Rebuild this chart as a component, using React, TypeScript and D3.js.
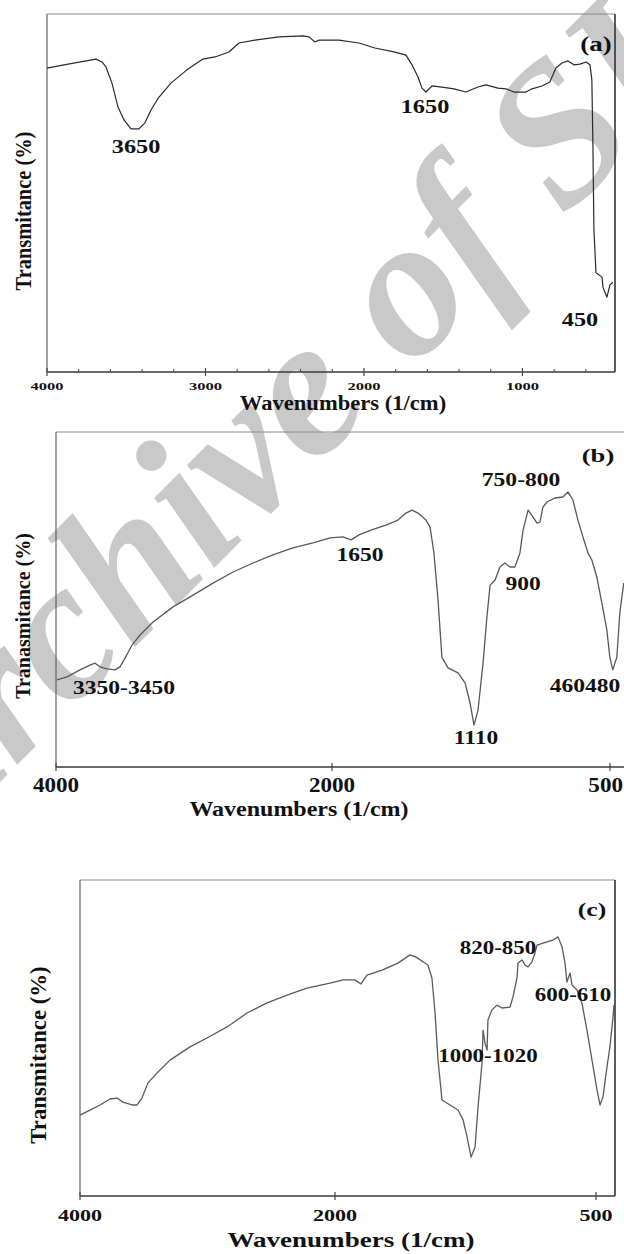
import React from 'react';
import * as d3 from 'd3';

type Pt = [number, number];

// FTIR spectra: [wavenumber (1/cm), transmittance (%)]
const spectrumA: Pt[] = [
  [4000, 84.9], [3893, 85.8], [3754, 86.9], [3691, 87.4], [3653, 86.6], [3628, 85.2],
  [3590, 80.7], [3552, 74.0], [3514, 70.4], [3470, 67.9], [3420, 67.9], [3382, 69.6],
  [3344, 73.2], [3293, 76.8], [3218, 80.7], [3117, 84.4], [3016, 87.4], [2940, 88.0],
  [2852, 89.4], [2789, 91.9], [2688, 92.7], [2536, 93.6], [2385, 93.9], [2347, 93.6],
  [2309, 92.2], [2284, 92.7], [2158, 92.7], [2032, 91.9], [1931, 90.5], [1811, 89.4],
  [1735, 88.5], [1697, 85.8], [1659, 82.4], [1634, 79.3], [1609, 78.2], [1571, 79.9],
  [1508, 79.6], [1432, 79.1], [1357, 78.2], [1281, 79.6], [1230, 80.2], [1155, 79.3],
  [1104, 79.1], [1054, 78.2], [978, 78.2], [940, 79.1], [877, 79.9], [827, 81.0],
  [789, 84.9], [751, 86.3], [713, 86.9], [675, 85.8], [637, 86.0], [599, 86.6],
  [574, 85.8], [562, 81.6], [555, 62.0], [549, 39.7], [536, 27.7], [498, 26.5],
  [492, 23.7], [467, 20.9], [448, 24.3], [429, 25.1],
];

const spectrumB: Pt[] = [
  [3993, 26.0], [3920, 26.9], [3826, 29.0], [3754, 30.4], [3717, 31.0], [3681, 29.9],
  [3630, 29.3], [3572, 29.0], [3536, 29.9], [3500, 32.5], [3449, 36.4], [3391, 39.4],
  [3297, 43.3], [3152, 47.8], [3007, 51.3], [2862, 54.9], [2717, 58.2], [2572, 60.9],
  [2428, 63.3], [2283, 65.4], [2138, 66.9], [2014, 68.4], [1941, 68.7], [1897, 67.8],
  [1854, 69.3], [1790, 70.7], [1709, 72.2], [1644, 73.7], [1601, 75.8], [1568, 76.7],
  [1536, 75.8], [1493, 73.7], [1471, 71.6], [1450, 63.9], [1428, 49.9], [1407, 32.8],
  [1374, 29.6], [1320, 28.1], [1282, 25.1], [1255, 19.1], [1234, 12.5], [1212, 17.0],
  [1185, 31.0], [1164, 44.8], [1147, 54.3], [1120, 55.8], [1094, 59.7], [1067, 60.9],
  [1040, 59.7], [1013, 59.7], [986, 63.9], [969, 70.7], [942, 76.7], [915, 74.6],
  [894, 72.8], [878, 73.1], [862, 77.6], [840, 79.1], [797, 80.3], [754, 80.6],
  [727, 82.1], [700, 79.7], [673, 73.7], [646, 68.7], [619, 63.9], [598, 61.8],
  [571, 56.7], [544, 49.0], [517, 40.9], [501, 32.8], [485, 29.0], [463, 32.8],
  [447, 46.0], [426, 54.9],
];

const spectrumC: Pt[] = [
  [4000, 25.6], [3922, 27.2], [3843, 28.8], [3765, 30.7], [3710, 31.0], [3663, 29.7],
  [3592, 28.8], [3553, 28.8], [3514, 31.0], [3467, 35.8], [3396, 38.9], [3294, 43.0],
  [3137, 47.2], [3004, 50.0], [2847, 53.5], [2690, 57.9], [2533, 61.1], [2376, 63.6],
  [2220, 65.8], [2039, 67.4], [1954, 68.4], [1885, 68.4], [1851, 67.1], [1816, 69.9],
  [1730, 71.5], [1638, 73.7], [1569, 76.3], [1534, 75.6], [1466, 73.1], [1443, 69.0],
  [1425, 57.9], [1408, 43.0], [1385, 30.4], [1339, 28.8], [1293, 27.2], [1264, 24.1],
  [1241, 18.7], [1218, 12.3], [1195, 15.5], [1178, 28.2], [1155, 42.1], [1149, 52.5],
  [1138, 48.4], [1126, 46.2], [1121, 55.7], [1098, 58.9], [1069, 60.4], [1040, 59.5],
  [994, 59.8], [977, 63.0], [954, 69.0], [948, 73.7], [925, 74.7], [908, 73.1],
  [891, 72.5], [868, 74.1], [851, 76.9], [839, 79.4], [782, 80.4], [747, 81.0],
  [718, 82.0], [695, 78.8], [678, 73.7], [667, 67.7], [649, 70.6], [638, 66.8],
  [609, 65.2], [581, 61.1], [552, 52.5], [523, 43.0], [494, 33.5], [477, 28.8],
  [460, 31.3], [437, 40.8], [420, 47.2], [402, 56.6], [397, 60.4],
];

// Axis tick labels
const ticksA = [4000, 3000, 2000, 1000];
const ticksB = [4000, 2000, 500];
const ticksC = [4000, 2000, 500];

// Band annotations: text placed at [wavenumber, transmittance]
type Peak = { label: string; wn: number; t: number };
const peaksA: Peak[] = [
  { label: '3650', wn: 3438, t: 61.2 },
  { label: '1650', wn: 1615, t: 72.3 },
  { label: '450', wn: 637, t: 12.8 },
];
const peaksB: Peak[] = [
  { label: '750-800', wn: 980, t: 83.9 },
  { label: '1650', wn: 1849, t: 61.5 },
  { label: '900', wn: 969, t: 52.8 },
  { label: '3350-3450', wn: 3507, t: 21.8 },
  { label: '1110', wn: 1223, t: 6.9 },
  { label: '460480', wn: 635, t: 22.4 },
];
const peaksC: Peak[] = [
  { label: '820-850', wn: 1063, t: 76.6 },
  { label: '600-610', wn: 632, t: 61.7 },
  { label: '1000-1020', wn: 1121, t: 42.4 },
];

const xTitle = 'Wavenumbers (1/cm)';
const yTitles = ['Transmitance (%)', 'Tranasmitance (%)', 'Transmitance (%)'];
const panelTags = ['(a)', '(b)', '(c)'];
const watermark = 'Archive of SID';

const SERIF = "'Liberation Serif','Times New Roman',serif";
const PAGE_W = 624;

type TextProps = {
  x: number; y: number; size: number; sx?: number; anchor?: string;
  rotate?: number; fill?: string; italic?: boolean; children: React.ReactNode;
};

function SText({ x, y, size, sx = 1, anchor = 'middle', rotate = 0, fill = '#111', italic = false, children }: TextProps) {
  return (
    <text
      transform={`translate(${x},${y}) rotate(${rotate}) scale(${sx},1)`}
      textAnchor={anchor as any}
      fontSize={size}
      fontWeight="bold"
      fontStyle={italic ? 'italic' : 'normal'}
      fontFamily={SERIF}
      fill={fill}
    >
      {children}
    </text>
  );
}

type Layout = {
  left: number; right: number; top: number; bottom: number;
  xDomain: number[]; xRange: number[];
  curveColor: string; curveWidth: number;
  tickSize: number; tickSx: number; tickY: number;
  peakSize: number; peakSx: number;
  tagX: number; tagY: number; tagSize: number; tagSx: number;
  xTitleX: number; xTitleY: number; xTitleSize: number; xTitleSx: number;
  yTitleX: number; yTitleY: number; yTitleSize: number; yTitleSx: number;
  frameRight: boolean; minorStep?: number;
};

const layoutA: Layout = {
  left: 47, right: 615, top: 14, bottom: 372,
  xDomain: [4000, 416], xRange: [47, 615],
  curveColor: '#2a2a2a', curveWidth: 1.2,
  tickSize: 11, tickSx: 1.5, tickY: 390,
  peakSize: 19, peakSx: 1.28,
  tagX: 596, tagY: 51, tagSize: 20, tagSx: 1.35,
  xTitleX: 343, xTitleY: 410, xTitleSize: 20, xTitleSx: 1.13,
  yTitleX: 31, yTitleY: 211, yTitleSize: 24, yTitleSx: 0.85,
  frameRight: true, minorStep: 200,
};

const layoutB: Layout = {
  left: 56, right: 624, top: 432, bottom: 767,
  xDomain: [4000, 2000, 500], xRange: [56, 332, 610],
  curveColor: '#585858', curveWidth: 1.3,
  tickSize: 21, tickSx: 1.1, tickY: 792,
  peakSize: 19, peakSx: 1.24,
  tagX: 598, tagY: 462, tagSize: 19, tagSx: 1.4,
  xTitleX: 299, xTitleY: 816, xTitleSize: 20, xTitleSx: 1.2,
  yTitleX: 30, yTitleY: 616, yTitleSize: 22, yTitleSx: 0.91,
  frameRight: false,
};

const layoutC: Layout = {
  left: 80, right: 615, top: 880, bottom: 1196,
  xDomain: [4000, 2000, 500], xRange: [80, 335, 596],
  curveColor: '#5a5a5a', curveWidth: 1.3,
  tickSize: 17, tickSx: 1.3, tickY: 1221,
  peakSize: 19, peakSx: 1.21,
  tagX: 592, tagY: 916, tagSize: 19, tagSx: 1.35,
  xTitleX: 351, xTitleY: 1247, xTitleSize: 22, xTitleSx: 1.23,
  yTitleX: 46, yTitleY: 1055, yTitleSize: 24, yTitleSx: 0.95,
  frameRight: true,
};

type PanelProps = {
  layout: Layout; data: Pt[]; ticks: number[]; peaks: Peak[]; tag: string; yTitle: string;
};

function Panel({ layout: L, data, ticks, peaks, tag, yTitle }: PanelProps) {
  const x = d3.scaleLinear().domain(L.xDomain).range(L.xRange);
  const y = d3.scaleLinear().domain([0, 100]).range([L.bottom, L.top]);
  const line = d3.line<Pt>().x(d => x(d[0])).y(d => y(d[1]));
  const minor = L.minorStep
    ? d3.range(4000 - L.minorStep, L.xDomain[L.xDomain.length - 1], -L.minorStep).filter(v => !ticks.includes(v))
    : [];
  // keep tick labels inside the page at the right edge
  const labelX = (v: number) => {
    const half = (String(v).length * 0.5 * L.tickSize * L.tickSx) / 2;
    return Math.min(x(v), PAGE_W - 1 - half);
  };

  return (
    <g>
      {/* frame */}
      <line x1={L.left} x2={L.right} y1={L.top} y2={L.top} stroke="#8a8a8a" strokeWidth={1} />
      <line x1={L.left} x2={L.left} y1={L.top} y2={L.bottom} stroke="#555" strokeWidth={1.1} />
      {L.frameRight && (
        <line x1={L.right} x2={L.right} y1={L.top} y2={L.bottom} stroke="#333" strokeWidth={1.6} />
      )}
      <line x1={L.left} x2={L.right} y1={L.bottom} y2={L.bottom} stroke="#3a3a3a" strokeWidth={1.6} />

      {/* ticks */}
      {minor.map(v => (
        <line key={`m${v}`} x1={x(v)} x2={x(v)} y1={L.bottom - 3} y2={L.bottom} stroke="#444" strokeWidth={1} />
      ))}
      {ticks.map(v => (
        <line key={`t${v}`} x1={x(v)} x2={x(v)} y1={L.bottom - 4} y2={L.bottom + 4} stroke="#444" strokeWidth={1.2} />
      ))}
      {ticks.map(v => (
        <SText key={`l${v}`} x={labelX(v)} y={L.tickY} size={L.tickSize} sx={L.tickSx}>{v}</SText>
      ))}

      {/* spectrum */}
      <path d={line(data) ?? ''} fill="none" stroke={L.curveColor} strokeWidth={L.curveWidth} strokeLinejoin="round" />

      {/* band annotations */}
      {peaks.map(p => (
        <SText key={p.label} x={x(p.wn)} y={y(p.t)} size={L.peakSize} sx={L.peakSx}>{p.label}</SText>
      ))}

      <SText x={L.tagX} y={L.tagY} size={L.tagSize} sx={L.tagSx}>{tag}</SText>
      <SText x={L.xTitleX} y={L.xTitleY} size={L.xTitleSize} sx={L.xTitleSx}>{xTitle}</SText>
      <SText x={L.yTitleX} y={L.yTitleY} size={L.yTitleSize} sx={L.yTitleSx} rotate={-90}>{yTitle}</SText>
    </g>
  );
}

export default function App() {
  return (
    <svg
      width={624}
      height={1254}
      viewBox="0 0 624 1254"
      style={{ position: 'absolute', left: 0, top: 0, display: 'block', background: '#fff' }}
    >
      <rect x={0} y={0} width={624} height={1254} fill="#fff" />
      {/* diagonal watermark behind the panels */}
      <SText x={-80} y={862} size={200} rotate={-45} anchor="start" fill="#c9c9c9" italic>
        {watermark}
      </SText>
      <Panel layout={layoutA} data={spectrumA} ticks={ticksA} peaks={peaksA} tag={panelTags[0]} yTitle={yTitles[0]} />
      <Panel layout={layoutB} data={spectrumB} ticks={ticksB} peaks={peaksB} tag={panelTags[1]} yTitle={yTitles[1]} />
      <Panel layout={layoutC} data={spectrumC} ticks={ticksC} peaks={peaksC} tag={panelTags[2]} yTitle={yTitles[2]} />
    </svg>
  );
}
